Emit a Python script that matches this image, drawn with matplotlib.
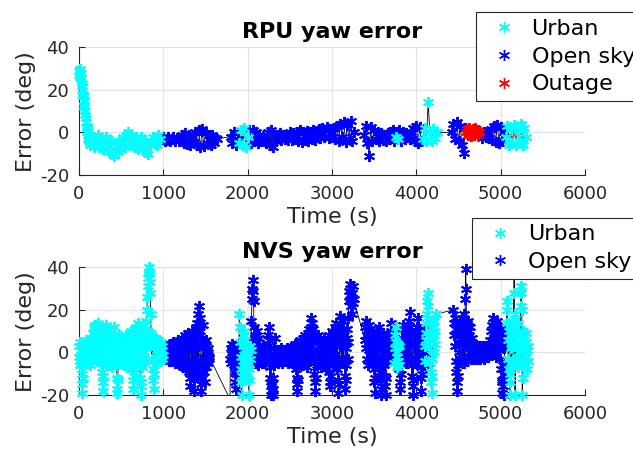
import numpy as np
import matplotlib
matplotlib.use('Agg')
import matplotlib.pyplot as plt
from matplotlib.lines import Line2D

plt.rcParams['font.family'] = 'DejaVu Sans'
plt.rcParams['axes.unicode_minus'] = False

MODE_COLORS = {'Urban': 'cyan', 'Open sky': 'blue', 'Outage': 'red'}
X_TICKS = [0, 1000, 2000, 3000, 4000, 5000, 6000]
Y_TICKS = [-20, 0, 20, 40]

# ---------------- RPU yaw error (deg) ----------------
# each segment: (mode, start time [s], sample step [s], values)
rpu_urban_1 = [29, 27, 30, 26, 28, 25, 23, 22, 20, 18, 17, 15, 13, 12, 10,
               8, 7, 5, 3, 2, 0, -1, -3, -2, -4, -5, -3, -6, -5, -4]
rpu_urban_2 = [-2, -7, -4, -1, -7, -3, -8, -5, -2, -8, -9, -4, -9, -11, -5,
               -9, -4, -8, -2, -7, -1, 0, -5, -1, -6, -7, -2, -8, -5, -2,
               -8, -4, -9, -10, -6, -4, -2, -5, -6, -1, -3]
rpu_open_1 = [-3, -2, -4, -3.5, -2, -4, -3, -2, -4, -2.5, -4, -3, -1, -5,
              -0.5, -5.5, -1, -6, -2, -4.5, 0, -6, 1, -7, 1.5, -6.5, -0.5,
              -5, -1, -6, -1, -5, -2.5, -3]
rpu_open_2 = [-2, -5, 0, -6, -3]
rpu_urban_3 = [-5, 1, -6, 2, -7, -2]
rpu_open_3 = [1, -5, 1, -4, 0, -5, -1, -4, -1.5, -4,
              -5, 0, -6, 1, -7, -1, -4, -1, -0.5, -3.5,
              -1, -3, -1.5, -3.5, 0, -3.5, -0.5, -3, 0, -4,
              1, -4.5, 0, -3.5, 0.5, -4, 0, -3, 1, -3.5,
              0, 1.5, -2.5, 2, -2, 1, 2.5, -2.5, 1.5, -2,
              2, -3, 3, -4, 4, -2, 5, -4.5, 3.5, -3,
              5.5, -4, 0]
rpu_open_4 = [-1, 3, -5, -11, 2.5, -4, 1, -3, 0, -4, -0.5, -3.5, -1, -4,
              -0.5, -3, 0, 1, -4]
rpu_urban_4 = [-2, -3]
rpu_open_5 = [1, -4, 0, -3, -0.5, -2, -3, 0, 2, -4, 3, -5, 2.5, -4]
rpu_urban_5 = [-3, 2, -4, 14.5, 0, -4, 1.5, -2.5, 0]
rpu_open_6 = [0, 4, -3, 5, -4, 3, -6, -9.5, 2]
rpu_outage = [0, 1.5, -1, 2, -0.5, 1, -1.5, 0.5, 1.5, -1, 0, 2, -0.5, 1,
              -1, 0]
rpu_open_7 = [-0.5, -2.5, 0, -2, -0.5, -2.5, 1.5, -3.5, 3, -4.5, 3.5, -5,
              2.5, -4, 0]
rpu_urban_6 = [-2, 3, -6, 2, -5, 3.5, -6, 1, -4, 4, -6, 2, -2]

rpu_segments = [
    ('Urban', 0, 5, rpu_urban_1),
    ('Urban', 160, 20, rpu_urban_2),
    ('Open sky', 980, 20, rpu_open_1),
    ('Open sky', 1800, 20, rpu_open_2),
    ('Urban', 1900, 20, rpu_urban_3),
    ('Open sky', 2020, 20, rpu_open_3),
    ('Open sky', 3380, 20, rpu_open_4),
    ('Urban', 3760, 20, rpu_urban_4),
    ('Open sky', 3800, 20, rpu_open_5),
    ('Urban', 4080, 20, rpu_urban_5),
    ('Open sky', 4420, 20, rpu_open_6),
    ('Outage', 4590, 10, rpu_outage),
    ('Open sky', 4760, 20, rpu_open_7),
    ('Urban', 5060, 20, rpu_urban_6),
]

# ---------------- NVS yaw error (deg), sampled every 5 s ----------------
nvs_urban_1 = [
    3, -2, 5, -6, 1, -4, -10, -15, -19, -12, -6, 2, -3, 4, -5, 0, 6, -2, 3, -4,
    1, -5, 4, -1, 6, -3, 2, -6, 5, 0, -2, 7, -4, 3, 9, -1, 12, 5, 13, 2,
    8, -3, 11, 4, 14, -2, 6, 10, -4, 3, 12, 0, 7, -5, 2, -9, -14, -18, -11, -4,
    5, 9, -2, 13, 3, -5, 7, 0, 11, -3, 4, 6, -6, 2, 8, -1, 5, -4, 3, -7,
    1, 6, -3, 9, 12, 4, -2, 7, -6, -12, -17, -19, -13, -5, 2, 8, -3, 5, 0, -4,
    4, -2, 6, -5, 1, 7, -3, 3, -6, 5, 0, -4, 8, -1, 2, -7, 4, -2, 6, -3,
    2, 7, -4, 5, 10, -2, 3, -8, -13, -17, -9, 1, 6, -3, 12, 4, -5, 8, 0, 14,
    6, -2, 11, 3, -6, -12, -16, -20, -14, -7, 2, 9, -3, 5, 13, 0, 7, -4, 10, 3,
    15, 20, 26, 31, 35, 38, 40, 37, 33, 28, 18, 9, 4, -3, 6, -8, -13, -17, -10, 2,
    -4, 5, -2, 7, 1, -5, 3, -1, 6, -3, 2, -4, 4, 0, -2, 5, -3, 1, 3, -1]
nvs_open_1 = [
    -1, 2, -3, 1, -2, 3, 0, -3, 2, -1, 3, -2, 1, -4, 2, 0, -3, 4, -1, 2,
    -4, 3, 0, -2, 5, -3, 1, -5, 4, -1, 2, -4, 5, 0, -3, 6, -2, 3, -5, 1,
    4, -6, 2, -3, 7, -1, 5, -7, 3, 0, -5, 8, -2, 4, -8, 1, 6, -4, 9, -3,
    2, -9, 7, -12, -16, -10, 5, -4, 10, 1, -7, 8, -13, -18, -11, 3, -6, 12, -2, 9,
    -8, 14, 4, 18, -5, 22, 16, 10, -10, -15, -18, -12, 7, -6, 13, 2, -9, 5, -14, -3,
    6, -7, 3, -4, 1, -5, 2, -1, -3, -2]
nvs_open_2 = [-22, -3, 2, -5, 1, -2, 4, -4, 0, -6, 3, -1, -9, -14, -17, -10,
              -3, 2, -5, 1, -2, 0]
nvs_urban_2 = [18, 12, 5, -2, -8, -14, -20, -11, 3, 8, -4, 10, 1, -6, 6, -9,
               -2, 4, -12, -7, 2, -5, -13, -20, -8, 3, -3, 1]
nvs_open_3 = [
    6, 15, 25, 30, 34, 29, 24, 12, 4, -3, 8, -5, 2, 10, -2, 5, -6, 1, 7, -3,
    -1, -4, 2, -3, 0, -5, 1, -2, -4, 3, -1, -3, 0, -5, 2, -2, -4, 1, -3, 0,
    3, 8, 12, 6, -2, -7, -12, -16, -20, -18, -15, -20, -17, -12, -6, 2, 7, -4, 1, -3,
    -1, -4, 1, -2, -5, 0, -3, 1, -4, -1, -2, 2, -3, -5, 0, -2, -4, 1, -1, -3,
    -2, 1, -4, -1, 0, -3, 2, -5, -2, 0, -3, 1, -4, -1, 2, -2, -5, 0, -3, 1,
    -2, 3, -4, 1, -6, 4, -3, -8, -12, -15, -18, -13, -7, 2, -5, 5, -2, 6, -4, 3,
    -6, 4, 1, -3, 7, -1, 5, -5, 3, 8, -2, 6, -7, 2, 9, -4, 4, 11, 0, -3,
    7, 12, 3, 16, 9, 14, -2, 11, 5, -5, -10, -14, -18, -12, -4, 6, 1, -6, 8, -2,
    3, -5, 1, 6, -3, 4, -7, 2, -1, 5, -4, 0, 7, -6, 3, -2, 5, -8, 1, -3,
    4, -2, 6, -5, 2, 8, -9, -14, -16, -11, -4, 5, 10, 3, -6, 7, 1, -3, 9, -1,
    12, 5, 14, -3, 8, -8, -13, -19, -15, -6, 3, 10, 17, 6, 13, -2, 9, 15, 4, -5,
    8, -4, -11, -17, -13, -6, 2, 11, 7, -3, 5, 16, 24, 29, 32, 27, 22, 30, 25, 18,
    28, 23, 31, 25]
nvs_open_4 = [
    6, 12, 2, 15, 8, -3, 10, 4, -6, 13, 1, 7, -4, 11, 3, -2, 9, 5, -5, 8,
    2, -8, -14, -19, -12, -4, 6, 0, 10, 3, -5, 8, -2, 12, 4, -7, -13, -17, -20, -9,
    1, 7, -3, 9, 2, -6, 5, -11, -16, -20, -12, -2, 4, -4, 6, 0, -3, 3, -1, 2,
    5, 10, 14, 8, 2, -3, 6, 0, 9, -2]
nvs_urban_3 = [-5, 2, 8, 12, 5, -2, -7, 0, 4, -4, 3, -6]
nvs_open_5 = [
    -8, -14, -17, -10, -3, 2, 7, 11, 13, 6, 1, -4, 3, -2, 8, -5, 0, 4, -3, 2,
    -1, 6, 10, 15, 19, 12, 4, -3, 8, -6, -11, -16, -20, -13, -5, 3, 9, -2, 5, -4,
    1, 7, 12, 16, 10, 3, -5, 8, -2, 11, -7, -12, -18, -10, 2, 6, -3, 9, 0, -6]
nvs_urban_4 = [3, -4, 9, 14, 6, 18, 24, 28, 22, 15, 8, 2, -5, 10, -9, -14,
               -19, -11, -3, 6, 12, 0, 8, 15, 4, 10, 18, 18]
nvs_open_6 = [
    20, 14, 8, 16, 3, 11, -4, -9, -14, -18, -11, -6, 5, 12, 0, 9, 15, 6, -3, 10,
    16, 7, -3, 13, 2, -5, 18, 9, 25, 39, 30, 14, 4, -4, 15, 3, -2, 10, 8, 0,
    12, 5, -3, 7, 2, -2, 4, 0, 3, -3, 1, 4, -1, 2, -2, 3, 0, -3, 2, -1,
    1, -2, 3, 0, -3, 2, -1, 1, -2, 3, 0, -1, 2, -3, 1, 0, -2, 3, -1, 2,
    0, -2, 3, 1, -1, 4, 2, 6]
nvs_open_7 = [
    4, 10, 1, 13, 6, 16, 2, 9, 12, 0, 7, 14, 3, 11, -2, 8, 15, 5, 10, 1,
    9, 4, 12, -3, 7, -8, -13, -19, -14, -6, -16, -20, -10, 2, 8, 4, 11, 3]
nvs_urban_5 = [
    20, 24, 14, 6, -3, 10, -8, -14, -20, -10, 2, 8, -5, 12, 3, -6, 15, 28, 37, 18,
    -20, -4, 6, 12, -2, 9, -7, 3, 14, 0, -5, 8, 2, 22, 28, 31, 20, -20, -12, 4,
    10, -3, 6, -6, 2, 9, -2, 5, -8, 1, 3, -4]

nvs_segments = [
    ('Urban', 0, 5, nvs_urban_1),
    ('Open sky', 1000, 5, nvs_open_1),
    ('Open sky', 1790, 5, nvs_open_2),
    ('Urban', 1900, 5, nvs_urban_2),
    ('Open sky', 2040, 5, nvs_open_3),
    ('Open sky', 3390, 5, nvs_open_4),
    ('Urban', 3740, 5, nvs_urban_3),
    ('Open sky', 3800, 5, nvs_open_5),
    ('Urban', 4100, 5, nvs_urban_4),
    ('Open sky', 4440, 5, nvs_open_6),
    ('Open sky', 4880, 5, nvs_open_7),
    ('Urban', 5070, 5, nvs_urban_5),
]

ASTERISK = (6, 2, 0)
MS = 8
MEW = 1.4
AX_COLOR = '#262626'


def build(segments):
    t, e, m = [], [], []
    for mode, t0, dt, vals in segments:
        t.extend(t0 + dt * np.arange(len(vals)))
        e.extend(vals)
        m.extend([mode] * len(vals))
    return np.array(t, float), np.array(e, float), np.array(m)


def draw(ax, segments, title):
    t, e, m = build(segments)
    ax.plot(t, e, color='k', lw=0.6, zorder=2)
    # like MATLAB: a marker is shown only if its point is inside the limits
    shown = (e >= Y_TICKS[0]) & (e <= Y_TICKS[-1])
    for mode in ['Open sky', 'Urban', 'Outage']:
        sel = (m == mode) & shown
        if sel.any():
            ax.plot(t[sel], e[sel], ls='none', marker=ASTERISK, ms=MS,
                    mew=MEW, color=MODE_COLORS[mode], clip_on=False, zorder=3)

    ax.set_xlim(X_TICKS[0], X_TICKS[-1])
    ax.set_ylim(Y_TICKS[0], Y_TICKS[-1])
    ax.set_xticks(X_TICKS)
    ax.set_yticks(Y_TICKS)
    ax.grid(True, color='#e3e3e3', lw=0.8)
    ax.set_axisbelow(True)
    for s in ['top', 'right']:
        ax.spines[s].set_visible(False)
    for s in ['left', 'bottom']:
        ax.spines[s].set_color(AX_COLOR)
        ax.spines[s].set_linewidth(0.8)
    ax.tick_params(direction='in', length=4, width=0.8, colors=AX_COLOR,
                   labelsize=13, pad=7)
    ax.set_title(title, fontsize=16, fontweight='bold', pad=7)
    ax.set_xlabel('Time (s)', fontsize=16, color=AX_COLOR, labelpad=3)
    ax.set_ylabel('Error (deg)', fontsize=16, color=AX_COLOR, labelpad=3)


def add_legend(fig, modes, anchor):
    handles = [Line2D([], [], ls='none', marker=ASTERISK, ms=MS, mew=1.0,
                      color=MODE_COLORS[k]) for k in modes]
    leg = fig.legend(handles, modes, loc='upper left', bbox_to_anchor=anchor,
                     bbox_transform=fig.transFigure, fontsize=16,
                     fancybox=False, edgecolor=AX_COLOR, framealpha=1,
                     borderpad=0.3, handlelength=1.9, handletextpad=0.3,
                     labelspacing=0.35, borderaxespad=0)
    leg.get_frame().set_linewidth(0.8)


fig = plt.figure(figsize=(6.33, 4.5), dpi=100)
ax1 = fig.add_axes([0.1248, 0.6111, 0.7994, 0.2838])
ax2 = fig.add_axes([0.1248, 0.1222, 0.7994, 0.2838])

draw(ax1, rpu_segments, 'RPU yaw error')
draw(ax2, nvs_segments, 'NVS yaw error')

add_legend(fig, ['Urban', 'Open sky', 'Outage'], (0.752, 0.973))
add_legend(fig, ['Urban', 'Open sky'], (0.746, 0.516))

fig.savefig('out.png', dpi=100)
